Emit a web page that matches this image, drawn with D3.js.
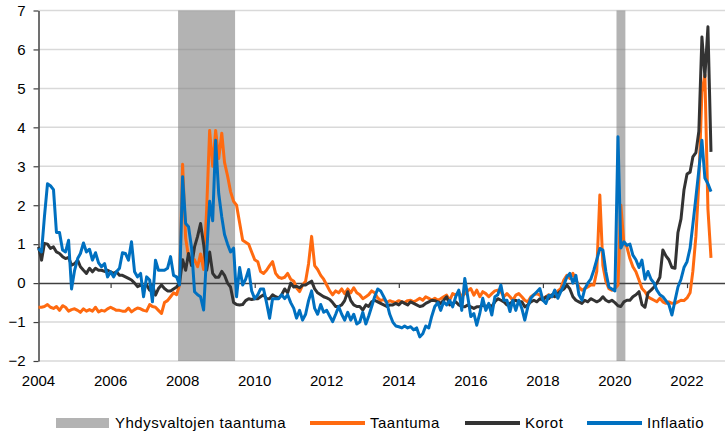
<!DOCTYPE html>
<html>
<head>
<meta charset="utf-8">
<script src="https://cdn.jsdelivr.net/npm/d3@7"></script>
<style>
  body { margin: 0; background: #fff; }
  text { font-family: "Liberation Sans", Arial, sans-serif; fill: #000; }
</style>
</head>
<body>
<svg id="chart" width="725" height="433"></svg>
<script>
// monthly series, first value = Jan 2004, last = Sep 2022
const startMonth = "2004-01";

const taantuma = [
  -0.62, -0.62, -0.6, -0.55, -0.62, -0.65, -0.6, -0.7, -0.58, -0.62, -0.72, -0.68,
  -0.66, -0.7, -0.75, -0.66, -0.72, -0.68, -0.72, -0.62, -0.74, -0.7, -0.72, -0.66,
  -0.62, -0.66, -0.7, -0.7, -0.72, -0.72, -0.64, -0.74, -0.68, -0.64, -0.66, -0.7,
  -0.72, -0.55, -0.6, -0.62, -0.7, -0.78, -0.5, -0.45, -0.35, -0.25, -0.3, -0.05,
  3.05, 1.15, 0.68, 0.5, 0.6, 0.42, 0.75, 0.35, 1.9, 3.92, 3.0, 3.92,
  3.2, 3.85, 3.1, 2.75, 2.35, 2.1, 2.0, 1.55, 1.1, 1.05, 1.0, 0.8,
  0.6, 0.55, 0.3, 0.25, 0.33, 0.45, 0.55, 0.25, 0.15, 0.12, 0.15, 0.25,
  0.1, 0.05, -0.12, -0.22, -0.05, 0.05, 0.5, 1.2, 0.45, 0.35, 0.2, 0.1,
  -0.05, -0.2, -0.3, -0.2, -0.25, -0.15, -0.27, -0.15, -0.25, -0.12, -0.25, -0.3,
  -0.4, -0.35, -0.3, -0.2, -0.25, -0.38, -0.45, -0.42, -0.5, -0.45, -0.48, -0.5,
  -0.45, -0.48, -0.5, -0.45, -0.44, -0.48, -0.44, -0.39, -0.44, -0.35, -0.39, -0.44,
  -0.39, -0.44, -0.4, -0.35, -0.31, -0.44, -0.27, -0.31, -0.22, -0.35, -0.27, -0.2,
  -0.14, -0.31, -0.18, -0.35, -0.22, -0.27, -0.35, -0.27, -0.2, -0.18, -0.22, -0.35,
  -0.27, -0.35, -0.44, -0.31, -0.27, -0.35, -0.44, -0.48, -0.35, -0.3, -0.27, -0.31,
  -0.39, -0.35, -0.3, -0.35, -0.31, -0.2, -0.14, 0.08, 0.2, 0.12, 0.25, 0.1,
  -0.1, -0.18, -0.14, -0.1, -0.05, -0.05, 0.3, 2.26, 0.45, 0.05, -0.14, -0.18,
  -0.14, -0.05, 2.0, 1.02, 0.93, 0.63, 0.42, 0.29, 0.08, -0.14, -0.22, -0.35,
  -0.4, -0.44, -0.48, -0.39, -0.48, -0.52, -0.48, -0.52, -0.52, -0.48, -0.44, -0.45,
  -0.38, -0.25, 0.3, 1.2, 2.6, 4.9, 5.35, 1.9, 0.65
];

const korot = [
  0.93, 0.59, 1.02, 1.0, 0.89, 0.93, 0.8, 0.76, 0.68, 0.63, 0.66, 0.46,
  0.5, 0.59, 0.42, 0.33, 0.25, 0.38, 0.29, 0.38, 0.33, 0.33, 0.3, 0.33,
  0.29, 0.25, 0.29, 0.2, 0.2, 0.16, 0.12, 0.08, 0.0, -0.09, -0.05, -0.09,
  -0.05, -0.18, -0.05, -0.31, -0.14, -0.05, -0.14, -0.2, -0.2, -0.15, -0.1, 0.0,
  0.6, 0.33, 0.76, 0.45, 0.93, 1.2, 1.53, 1.0, 0.33, 0.8, 0.25, 0.15,
  0.15, 0.3, 0.2, 0.0, -0.1, -0.5, -0.55, -0.56, -0.55, -0.45, -0.4, -0.42,
  -0.4, -0.4, -0.35, -0.3, -0.4, -0.4, -0.3, -0.35, -0.38, -0.3, -0.15, -0.25,
  0.0, -0.1, -0.08, -0.12, -0.05, -0.05, 0.0, 0.05, -0.15, -0.25, -0.3, -0.35,
  -0.38, -0.42, -0.5, -0.6, -0.6, -0.56, -0.45, -0.22, -0.45, -0.56, -0.6, -0.6,
  -0.69, -0.56, -0.6, -0.48, -0.44, -0.48, -0.52, -0.56, -0.6, -0.56, -0.56, -0.52,
  -0.56, -0.48, -0.52, -0.56, -0.48, -0.52, -0.56, -0.6, -0.58, -0.52, -0.48, -0.44,
  -0.45, -0.48, -0.52, -0.44, -0.35, -0.56, -0.52, -0.48, -0.56, -0.6, -0.61, -0.56,
  -0.61, -0.65, -0.61, -0.61, -0.56, -0.61, -0.56, -0.6, -0.48, -0.4, -0.44, -0.48,
  -0.56, -0.52, -0.48, -0.44, -0.48, -0.48, -0.61, -0.56, -0.48, -0.44, -0.48, -0.4,
  -0.44, -0.35, -0.4, -0.3, -0.35, -0.27, -0.2, -0.15, -0.05, -0.15, -0.35, -0.44,
  -0.48, -0.52, -0.44, -0.48, -0.4, -0.44, -0.48, -0.44, -0.35, -0.44, -0.48, -0.44,
  -0.5, -0.58, -0.6, -0.48, -0.44, -0.44, -0.35, -0.3, -0.22, -0.55, -0.62, -0.25,
  -0.18, -0.1, 0.0, 0.15, 0.85, 0.7, 0.6, 0.4, 0.38, 1.3, 1.65, 2.39,
  2.8, 2.85, 3.24, 3.35, 3.9, 6.32, 5.3, 6.58, 3.37
];

const inflaatio = [
  0.89, 0.8, 1.7, 2.55, 2.5, 2.4, 1.3, 1.3, 0.85, 0.8, 1.1, -0.15,
  0.33, 0.63, 0.76, 1.03, 0.8, 0.87, 0.59, 0.78, 0.52, 0.42, 0.5, 0.16,
  0.29, 0.16, 0.29, 0.38, 0.78, 0.76, 0.59, 1.06, 0.29, 0.16, 0.25, -0.35,
  0.16, 0.08, -0.48, 0.59, 0.33, 0.33, 0.33, 0.38, 0.68, 0.2, 0.16, -0.05,
  2.73, 1.53, 1.45, 0.9, -0.22, -0.3, -0.35, -0.69, 0.75, 2.1, 1.6, 3.67,
  2.3, 1.7, 1.25, 1.0, 0.8, 0.9, -0.35, 0.4, -0.05, 0.1, 0.35, -0.2,
  -0.4, -0.3, -0.15, -0.15, -0.5, -0.9, -0.4, -0.4, -0.4, -0.3, -0.4, -0.3,
  -0.5, -0.65, -0.9, -0.7, -0.95, -0.8, -0.45, -0.2, -0.65, -0.8, -0.55, -0.75,
  -0.7, -0.85, -0.99, -0.8, -0.6, -0.8, -0.95, -0.75, -0.95, -0.8, -1.05, -1.0,
  -0.75, -1.05, -0.85, -0.6, -0.35, -0.15, -0.2, -0.35, -0.5, -0.8, -1.0, -1.1,
  -1.12, -1.15, -1.1, -1.15, -1.12, -1.2, -1.15, -1.38, -1.3, -1.1, -1.15, -0.85,
  -0.6, -0.5, -0.7, -0.48, -0.56, -0.44, -0.61, -0.35, -0.18, -0.7, 0.12, -0.35,
  -0.86, -0.78, -1.08, -0.78, -0.39, -0.7, -0.52, -0.82, -0.35, -0.3, -0.05, -0.44,
  -0.44, -0.73, -0.44, -0.7, -0.44, -0.65, -0.95, -0.61, -0.39, -0.3, -0.22, -0.14,
  -0.44, -0.52, -0.31, -0.35, -0.18, -0.39, -0.22, -0.05, 0.16, 0.25, 0.0, 0.2,
  -0.3, -0.44, -0.15, 0.0, 0.1, 0.33, 0.6, 0.89, 0.85, 0.3, -0.1, -0.15,
  -0.2, 3.76, 0.9, 1.06, 0.97, 1.0, 0.72, 0.6, 0.4, 0.59, 0.1, 0.3,
  0.1, 0.0, -0.18, -0.3, -0.35, -0.45, -0.55, -0.82, -0.45, -0.1, 0.1, 0.4,
  0.55, 0.9, 1.5, 2.2, 2.9, 3.67, 2.7, 2.55, 2.35
];

// US recessions (first and last month)
const recessions = [["2007-12", "2009-06"], ["2020-02", "2020-04"]];

const yTicks = [-2, -1, 0, 1, 2, 3, 4, 5, 6, 7];
const xLabelYears = [2004, 2006, 2008, 2010, 2012, 2014, 2016, 2018, 2020, 2022];
const xMarkYears = [2006, 2010, 2014, 2018, 2022];

const seriesNames = ["Taantuma", "Korot", "Inflaatio"];
const seriesColors = ["#ff6a10", "#333333", "#0070c0"];
const recessionName = "Yhdysvaltojen taantuma";

const parseMonth = d3.timeParse("%Y-%m");
const start = parseMonth(startMonth);

const svg = d3.select("#chart");

const x = d3.scaleTime()
    .domain([new Date(2004, 0, 1), new Date(2023, 0, 21)])
    .range([38.5, 725]);
const y = d3.scaleLinear()
    .domain([-2, 7])
    .range([361, 10.5]);

// gridlines
svg.append("g")
    .selectAll("line")
    .data(yTicks.filter(d => d !== 0))
    .enter()
    .append("line")
    .attr("x1", x.range()[0])
    .attr("x2", x.range()[1])
    .attr("y1", d => y(d))
    .attr("y2", d => y(d))
    .attr("stroke", "#d9d9d9")
    .attr("stroke-width", 1.5);

// recession shading
svg.append("g")
    .selectAll("rect")
    .data(recessions)
    .enter()
    .append("rect")
    .attr("x", d => x(d3.timeDay.offset(parseMonth(d[0]), -15)))
    .attr("width", d => x(d3.timeDay.offset(parseMonth(d[1]), 15)) - x(d3.timeDay.offset(parseMonth(d[0]), -15)))
    .attr("y", y(7))
    .attr("height", y(-2) - y(7))
    .attr("fill", "#808080")
    .attr("fill-opacity", 0.6);

// y axis
const yAxis = d3.axisLeft(y)
    .tickValues(yTicks)
    .tickSize(5)
    .tickSizeOuter(0)
    .tickPadding(8)
    .tickFormat(d3.format("d"));
const gy = svg.append("g")
    .attr("transform", "translate(" + x.range()[0] + ",0)")
    .call(yAxis);
gy.select(".domain").attr("stroke", "#404040").attr("stroke-width", 1.5);
gy.selectAll(".tick line").attr("stroke", "#404040").attr("stroke-width", 1.2);
gy.selectAll(".tick text").style("font-size", "15px").attr("fill", "#000");

// zero line with tick marks
const xAxis = d3.axisBottom(x)
    .tickValues(xMarkYears.map(d => new Date(d, 0, 1)))
    .tickSize(5)
    .tickSizeOuter(0)
    .tickFormat("");
const gx = svg.append("g")
    .attr("transform", "translate(0," + y(0) + ")")
    .call(xAxis);
gx.select(".domain").attr("stroke", "#404040").attr("stroke-width", 1.5);
gx.selectAll(".tick line").attr("stroke", "#404040").attr("stroke-width", 1.2);

// year labels
svg.append("g")
    .selectAll("text")
    .data(xLabelYears)
    .enter()
    .append("text")
    .attr("x", d => x(new Date(d, 0, 1)))
    .attr("y", 386)
    .attr("text-anchor", "middle")
    .style("font-size", "15px")
    .text(d => d);

// lines
const allSeries = [taantuma, korot, inflaatio];
const line = d3.line()
    .x((d, i) => x(d3.timeMonth.offset(start, i)))
    .y(d => y(d));

svg.append("g")
    .selectAll("path")
    .data(allSeries)
    .enter()
    .append("path")
    .attr("d", d => line(d))
    .attr("fill", "none")
    .attr("stroke", (d, i) => seriesColors[i])
    .attr("stroke-width", 3)
    .attr("stroke-linejoin", "round");

// legend
const legend = svg.append("g");
legend.append("rect")
    .attr("x", 56)
    .attr("y", 418)
    .attr("width", 53)
    .attr("height", 10)
    .attr("fill", "#808080")
    .attr("fill-opacity", 0.6);
legend.append("text")
    .attr("x", 115)
    .attr("y", 428)
    .style("font-size", "15px")
    .style("letter-spacing", "0.5px")
    .text(recessionName);

const legendX = [310, 465, 587];
seriesNames.forEach((name, i) => {
    legend.append("line")
        .attr("x1", legendX[i])
        .attr("x2", legendX[i] + 55)
        .attr("y1", 423)
        .attr("y2", 423)
        .attr("stroke", seriesColors[i])
        .attr("stroke-width", 4);
    legend.append("text")
        .attr("x", legendX[i] + 60)
        .attr("y", 428)
        .style("font-size", "15px")
        .style("letter-spacing", "0.5px")
        .text(name);
});
</script>
</body>
</html>
